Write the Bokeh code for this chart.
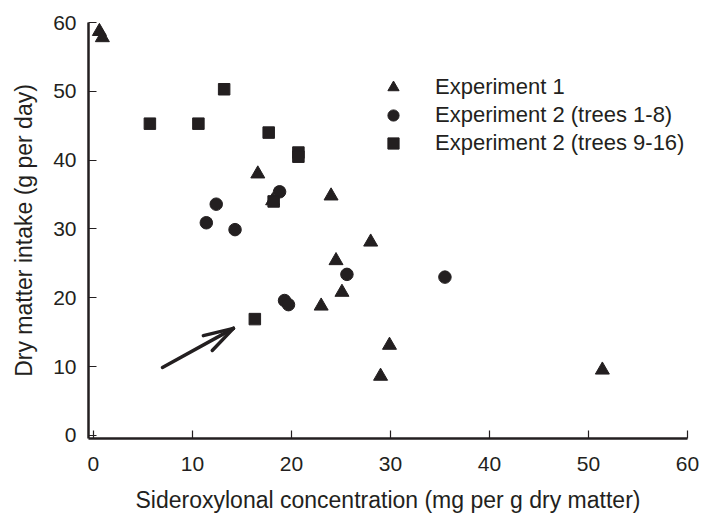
from bokeh.plotting import figure
from bokeh.models import Range1d, FixedTicker, Legend, LegendItem
from bokeh.embed import file_html
from bokeh.resources import INLINE

# ---- data ----
exp1_x = [0.6, 0.9, 16.6, 18.1, 24.0, 28.0, 24.5, 25.1, 23.0, 29.9, 29.0, 51.4]
exp1_y = [58.7, 57.8, 38.0, 34.1, 34.8, 28.1, 25.4, 20.8, 18.8, 13.1, 8.6, 9.5]

exp2a_x = [11.4, 12.4, 14.3, 18.8, 19.3, 19.7, 25.6, 35.5]
exp2a_y = [30.9, 33.6, 29.9, 35.4, 19.6, 19.0, 23.4, 23.0]

exp2b_x = [5.7, 10.6, 13.2, 17.7, 20.7, 20.7, 18.2, 16.3]
exp2b_y = [45.3, 45.3, 50.3, 44.0, 41.1, 40.5, 34.0, 16.9]

series_labels = ["Experiment 1", "Experiment 2 (trees 1-8)", "Experiment 2 (trees 9-16)"]
x_ticks = [0, 10, 20, 30, 40, 50, 60]
y_ticks = [0, 10, 20, 30, 40, 50, 60]
x_title = "Sideroxylonal concentration (mg per g dry matter)"
y_title = "Dry matter intake (g per day)"

# arrow annotation (tail, tip, and the two head arm ends) in data units
arrow_tail = (6.97, 9.88)
arrow_tip = (14.14, 15.55)
arrow_arm1 = (11.1, 14.5)
arrow_arm2 = (12.0, 12.35)

INK = "#231f20"
FONT = "Liberation Sans"

p = figure(width=701, height=515, output_backend="svg", toolbar_location=None,
           x_range=Range1d(-0.5, 60), y_range=Range1d(-0.45, 60),
           min_border_left=88, min_border_right=14, min_border_top=22,
           min_border_bottom=77)
p.outline_line_color = None
p.xgrid.visible = False
p.ygrid.visible = False
p.background_fill_color = "white"
p.border_fill_color = "white"

r1 = p.scatter(exp1_x, exp1_y, marker="triangle", size=14, color=INK)
r2 = p.scatter(exp2a_x, exp2a_y, marker="circle", size=12.5, color=INK)
r3 = p.scatter(exp2b_x, exp2b_y, marker="square", size=11.5, color=INK)

p.segment(x0=[arrow_tail[0], arrow_arm1[0], arrow_arm2[0]],
          y0=[arrow_tail[1], arrow_arm1[1], arrow_arm2[1]],
          x1=[arrow_tip[0]] * 3, y1=[arrow_tip[1]] * 3,
          line_width=3.5, line_color=INK, line_cap="round")

for ax, ticks in ((p.xaxis[0], x_ticks), (p.yaxis[0], y_ticks)):
    ax.ticker = FixedTicker(ticks=ticks)
    ax.minor_tick_line_color = None
    ax.major_tick_out = 0
    ax.major_tick_in = 8
    ax.major_tick_line_width = 1.2
    ax.major_tick_line_color = INK
    ax.axis_line_width = 2.5
    ax.axis_line_color = INK
    ax.major_label_text_font = FONT
    ax.major_label_text_font_size = "21px"
    ax.major_label_text_color = INK
    ax.axis_label_text_font = FONT
    ax.axis_label_text_font_size = "23px"
    ax.axis_label_text_font_style = "normal"
    ax.axis_label_text_color = INK

p.xaxis.axis_label = x_title
p.yaxis.axis_label = y_title
p.xaxis.major_label_standoff = 18
p.xaxis.axis_label_standoff = 13
p.yaxis.major_label_standoff = 12
p.yaxis.axis_label_standoff = 13

legend = Legend(items=[LegendItem(label=series_labels[0], renderers=[r1]),
                       LegendItem(label=series_labels[1], renderers=[r2]),
                       LegendItem(label=series_labels[2], renderers=[r3])],
                location=(290, 281), margin=0, padding=0, spacing=0,
                glyph_width=30, glyph_height=28, label_height=28,
                label_standoff=27, border_line_color=None,
                background_fill_alpha=0,
                label_text_font=FONT, label_text_font_size="22px",
                label_text_color=INK)
p.add_layout(legend, "center")

open("out.html", "w").write(file_html(p, INLINE))
